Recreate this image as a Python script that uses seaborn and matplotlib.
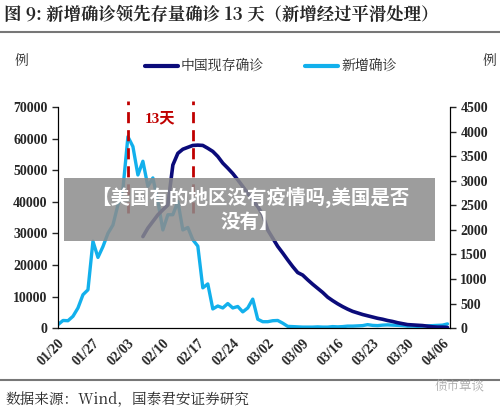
import numpy as np
import pandas as pd
import matplotlib
matplotlib.use("Agg")
from matplotlib import pyplot as plt
import seaborn as sns

# === Data ===
start = pd.Timestamp("2020-01-20")
dates = pd.date_range(start, periods=79, freq="D")

# China existing confirmed (left axis), starts 02/06
existing = [29000, 31700, 33800, 35900, 37500, 39000, 51700, 55400, 56700, 57300,
            57900, 58000, 57900, 57000, 56000, 54400, 52300, 50700, 49000, 47000,
            44900, 42700, 40600, 38500, 35900, 31100, 28500, 25900, 23800, 21600,
            19500, 17600, 16800, 15300, 13900, 12600, 11300, 9800, 8700, 7700,
            6800, 6000, 5300, 4800, 4300, 3900, 3500, 3100, 2800, 2400,
            2100, 1700, 1400, 1100, 1000, 900, 800, 600, 400, 300, 300, 200]

# new confirmed, smoothed (right axis)
new_cases = [70, 155, 150, 240, 410, 680, 780, 1770, 1440, 1660,
             1930, 2100, 2510, 2830, 3900, 3700, 3120, 3400, 2890, 3060,
             2580, 2000, 2310, 2310, 2580, 2000, 2050, 1800, 1670, 820,
             900, 390, 450, 410, 500, 410, 440, 330, 410, 590,
             180, 130, 130, 150, 155, 100, 35, 30, 25, 20,
             20, 20, 25, 20, 20, 30, 25, 30, 40, 40,
             45, 50, 70, 55, 50, 60, 65, 60, 55, 50,
             40, 40, 35, 40, 45, 50, 55, 60, 85]

df_exist = pd.DataFrame({"date": dates[17:], "value": existing})
df_new = pd.DataFrame({"date": dates, "value": new_cases})

dark = "#0b0b7a"
light = "#12b0ec"
serif = ["Liberation Serif", "Noto Sans CJK SC"]
cjk = ["Noto Serif CJK SC", "Noto Sans CJK SC", "DejaVu Sans"]

sns.set_style("white")
plt.rcParams["font.family"] = ["Liberation Serif", "Noto Sans CJK SC"]

fig = plt.figure(figsize=(5, 4.19), dpi=100)
ax = fig.add_axes([0.116, 0.217, 0.784, 0.527])
ax2 = ax.twinx()

sns.lineplot(data=df_exist, x="date", y="value", ax=ax, color=dark, lw=2.6, zorder=3)
sns.lineplot(data=df_new, x="date", y="value", ax=ax2, color=light, lw=2.4)
ax.set_zorder(ax2.get_zorder() + 1)
ax.patch.set_visible(False)

ax.set_ylim(0, 70000)
ax2.set_ylim(0, 4500)
ax.set_yticks(range(0, 70001, 10000))
ax2.set_yticks(range(0, 4501, 500))
ax.set_xlim(dates[0], start + pd.Timedelta(days=78.5))
ticks = pd.date_range(start, periods=12, freq="7D")
ax.set_xticks(ticks)
ax.set_xticklabels([d.strftime("%m/%d") for d in ticks], rotation=45,
                   ha="right", rotation_mode="anchor", fontweight="bold", fontsize=10)
ax.set_xlabel("")
ax.set_ylabel("")
ax2.set_ylabel("")
for a in (ax, ax2):
    for lab in a.get_yticklabels():
        lab.set_fontweight("bold")
        lab.set_fontsize(10)
    a.tick_params(axis="y", length=4, direction="out", width=1)
    for s in a.spines.values():
        s.set_color("black")
ax.tick_params(axis="x", length=4, direction="out", width=1, pad=2)
ax.spines["top"].set_visible(False)
ax2.spines["top"].set_visible(False)

# 13-day markers
for d in [start + pd.Timedelta(days=14), start + pd.Timedelta(days=27)]:
    ax.axvline(d, ymin=0.52, ymax=1.03, color="#c00000", ls=(0, (4, 2.5)), lw=2,
               clip_on=False)
ax.text(start + pd.Timedelta(days=20.5), 66500, "13天", color="#c00000",
        fontsize=11, fontweight="bold", ha="center", va="center", family=serif)

# title, legend, units
fig.text(0.008, 0.965, "图 9: 新增确诊领先存量确诊 13 天（新增经过平滑处理）",
         fontsize=12.5, fontweight="bold", va="center", family=cjk)
fig.add_artist(plt.Line2D([0, 1], [0.923, 0.923], color="#777777", lw=1.5))
fig.text(0.03, 0.855, "例", fontsize=10, va="center", family=cjk)
fig.text(0.965, 0.855, "例", fontsize=10, va="center", family=cjk)
fig.add_artist(plt.Line2D([0.29, 0.355], [0.842, 0.842], color=dark, lw=3))
fig.text(0.362, 0.842, "中国现存确诊", fontsize=10, va="center", family=cjk)
fig.add_artist(plt.Line2D([0.61, 0.675], [0.842, 0.842], color=light, lw=3))
fig.text(0.682, 0.842, "新增确诊", fontsize=10, va="center", family=cjk)

fig.add_artist(plt.Line2D([0, 1], [0.093, 0.093], color="#777777", lw=1.5))
fig.text(0.01, 0.045, "数据来源：Wind，国泰君安证券研究", fontsize=10.5, va="center", family=cjk)
fig.text(0.87, 0.077, "债市覃谈", fontsize=9, color="#aaaaaa", va="center", family=cjk)

# overlay banner
fig.patches.append(plt.Rectangle((0.128, 0.424), 0.742, 0.15, transform=fig.transFigure,
                                 facecolor="#8c8c8c", alpha=0.85, edgecolor="none", zorder=10))
fig.text(0.5, 0.5, "【美国有的地区没有疫情吗,美国是否\n没有】", color="white", fontsize=14,
         fontweight="bold", ha="center", va="center", linespacing=1.3, zorder=11,
         family=["Noto Sans CJK SC", "DejaVu Sans"])

fig.savefig("out.png", dpi=100)
